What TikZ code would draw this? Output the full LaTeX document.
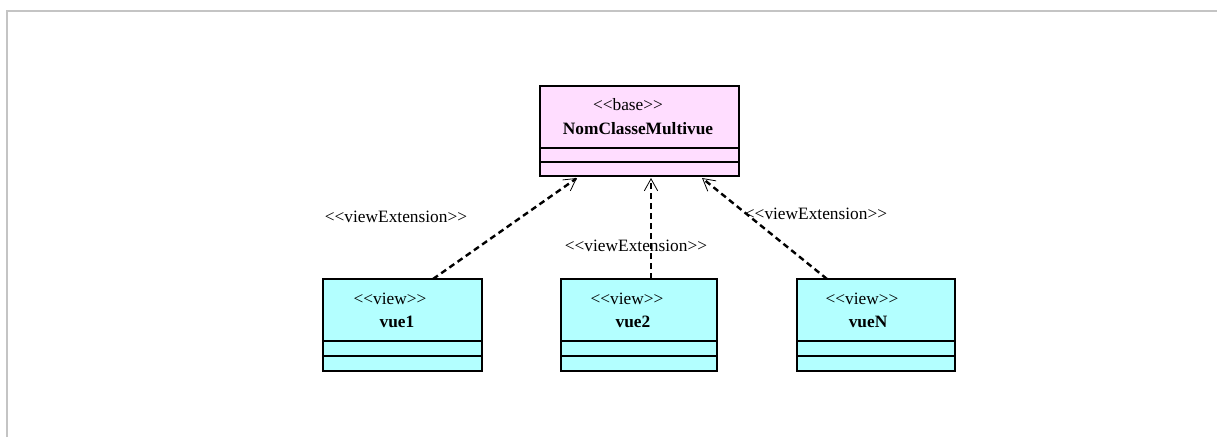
\documentclass[tikz,border=0pt]{standalone}
\usepackage{fontspec}
\setmainfont{Liberation Serif}
\usepackage{xcolor}
\usetikzlibrary{arrows.meta}

\definecolor{basepink}{RGB}{255,221,255}
\definecolor{viewcyan}{RGB}{179,255,255}
\definecolor{framegray}{RGB}{196,196,196}

% guillemet-like stereotype brackets, kept as two signs
\newcommand{\stOpen}{<\kern0pt<}
\newcommand{\stClose}{>\kern0pt>}

\begin{document}
\begin{tikzpicture}[x=0.75pt, y=-0.75pt,
    font=\fontsize{13}{15}\selectfont,
    basebox/.style={draw=black, line width=0.9pt, fill=basepink},
    viewbox/.style={draw=black, line width=0.9pt, fill=viewcyan},
    sep/.style={line width=1pt},
    stereo/.style={inner sep=0pt},
    classname/.style={inner sep=0pt, font=\fontsize{13}{15}\selectfont\bfseries},
    extends/.style={line width=1.8pt, dash pattern=on 4.5pt off 3pt,
        -{Straight Barb[length=9pt, width=10pt, line width=0.6pt]}}]
    \useasboundingbox (0,0) rectangle (1217,437);

    % Frame
    \draw[framegray, line width=1.5pt] (7,437) -- (7,11) -- (1217,11);

    % Base class
    \draw[basebox] (540,86) rectangle (739,176);
    \draw[sep] (540,148) -- (739,148);
    \draw[sep] (540,162) -- (739,162);
    \node[stereo] (bases) at (628,105) {\stOpen base\stClose};
    \node[classname] (base) at (638,129) {NomClasseMultivue};

    % View classes
    \draw[viewbox] (323,279) rectangle (482,371);
    \draw[sep] (323,341) -- (482,341);
    \draw[sep] (323,356) -- (482,356);
    \node[stereo] (vue1s) at (390,299) {\stOpen view\stClose};
    \node[classname] (vue1) at (397,322) {vue1};

    \draw[viewbox] (561,279) rectangle (717,371);
    \draw[sep] (561,341) -- (717,341);
    \draw[sep] (561,356) -- (717,356);
    \node[stereo] (vue2s) at (627,299) {\stOpen view\stClose};
    \node[classname] (vue2) at (633,322) {vue2};

    \draw[viewbox] (797,279) rectangle (955,371);
    \draw[sep] (797,341) -- (955,341);
    \draw[sep] (797,356) -- (955,356);
    \node[stereo] (vueNs) at (862,299) {\stOpen view\stClose};
    \node[classname] (vueN) at (868,322) {vueN};

    % Arrow ends
    \coordinate (v1top) at (433,279);
    \coordinate (v2top) at (651,279);
    \coordinate (vNtop) at (827,279);
    \coordinate (basea) at (577,178);
    \coordinate (baseb) at (651,178);
    \coordinate (basec) at (702,178);

    % View extensions
    \draw[extends] (v1top) -- (basea);
    \draw[extends] (v2top) -- (baseb);
    \draw[extends] (vNtop) -- (basec);

    % Labels
    \node[stereo] (ext1) at (396,217) {\stOpen viewExtension\stClose};
    \node[stereo] (ext2) at (636,246) {\stOpen viewExtension\stClose};
    \node[stereo] (ext3) at (816,214) {\stOpen viewExtension\stClose};
\end{tikzpicture}
\end{document}
